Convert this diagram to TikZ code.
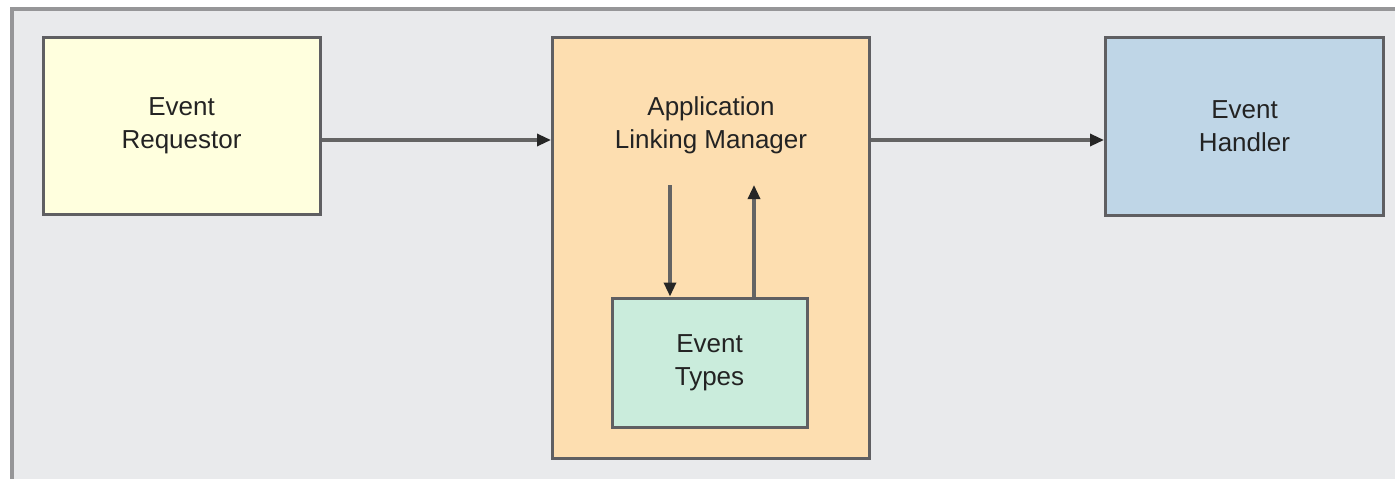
\documentclass[tikz,border=0pt]{standalone}
\usepackage{fontspec}
\setmainfont{Liberation Sans}
\usetikzlibrary{arrows.meta}
\definecolor{bgc}{RGB}{233,234,236}
\definecolor{framec}{RGB}{150,150,152}
\definecolor{boxline}{RGB}{95,95,98}
\definecolor{reqc}{RGB}{255,255,222}
\definecolor{almc}{RGB}{253,222,176}
\definecolor{handc}{RGB}{191,214,231}
\definecolor{typc}{RGB}{202,236,220}
\definecolor{txtc}{RGB}{35,35,35}
\definecolor{arrc}{RGB}{100,100,100}
\tikzset{
  blk/.style={draw=boxline, line width=3pt, rectangle, inner sep=0pt,
    align=center, text=txtc, font=\fontsize{26}{33}\selectfont},
  arr/.style={draw=arrc, line width=3.2pt,
    -{Triangle[length=14pt,width=12pt,fill=black!85,color=black!85]}}
}
\begin{document}
\begin{tikzpicture}[x=1pt,y=-1pt]
\useasboundingbox (0,0) rectangle (1395,479);
\fill[white] (0,0) rectangle (1395,479);
\fill[bgc] (12,9) rectangle (1395,479);
\draw[framec, line width=3.5pt] (12,479) -- (12,9) -- (1395,9);

\node[blk, fill=reqc, minimum width=277pt, minimum height=177pt] (req) at (181.5,125.5) {Event\\Requestor};
\node[blk, fill=almc, minimum width=317pt, minimum height=421pt] (alm) at (711,247.5) {};
\node[txtc, align=center, font=\fontsize{26}{33}\selectfont] (almt) at (711,125) {Application\\Linking Manager};
\node[blk, fill=handc, minimum width=278pt, minimum height=178pt] (hand) at (1244.5,126) {Event\\Handler};
\node[blk, fill=typc, minimum width=195pt, minimum height=129pt] (typ) at (709.5,362.5) {Event\\Types};

\coordinate (ay) at (0,140);
\coordinate (dtop) at (670,185);
\coordinate (utop) at (754,185);

\draw[arr] (req.east |- ay) -- (alm.west |- ay);
\draw[arr] (alm.east |- ay) -- (hand.west |- ay);
\draw[arr] (dtop) -- (dtop |- typ.north);
\draw[arr] (utop |- typ.north) -- (utop);
\end{tikzpicture}
\end{document}
